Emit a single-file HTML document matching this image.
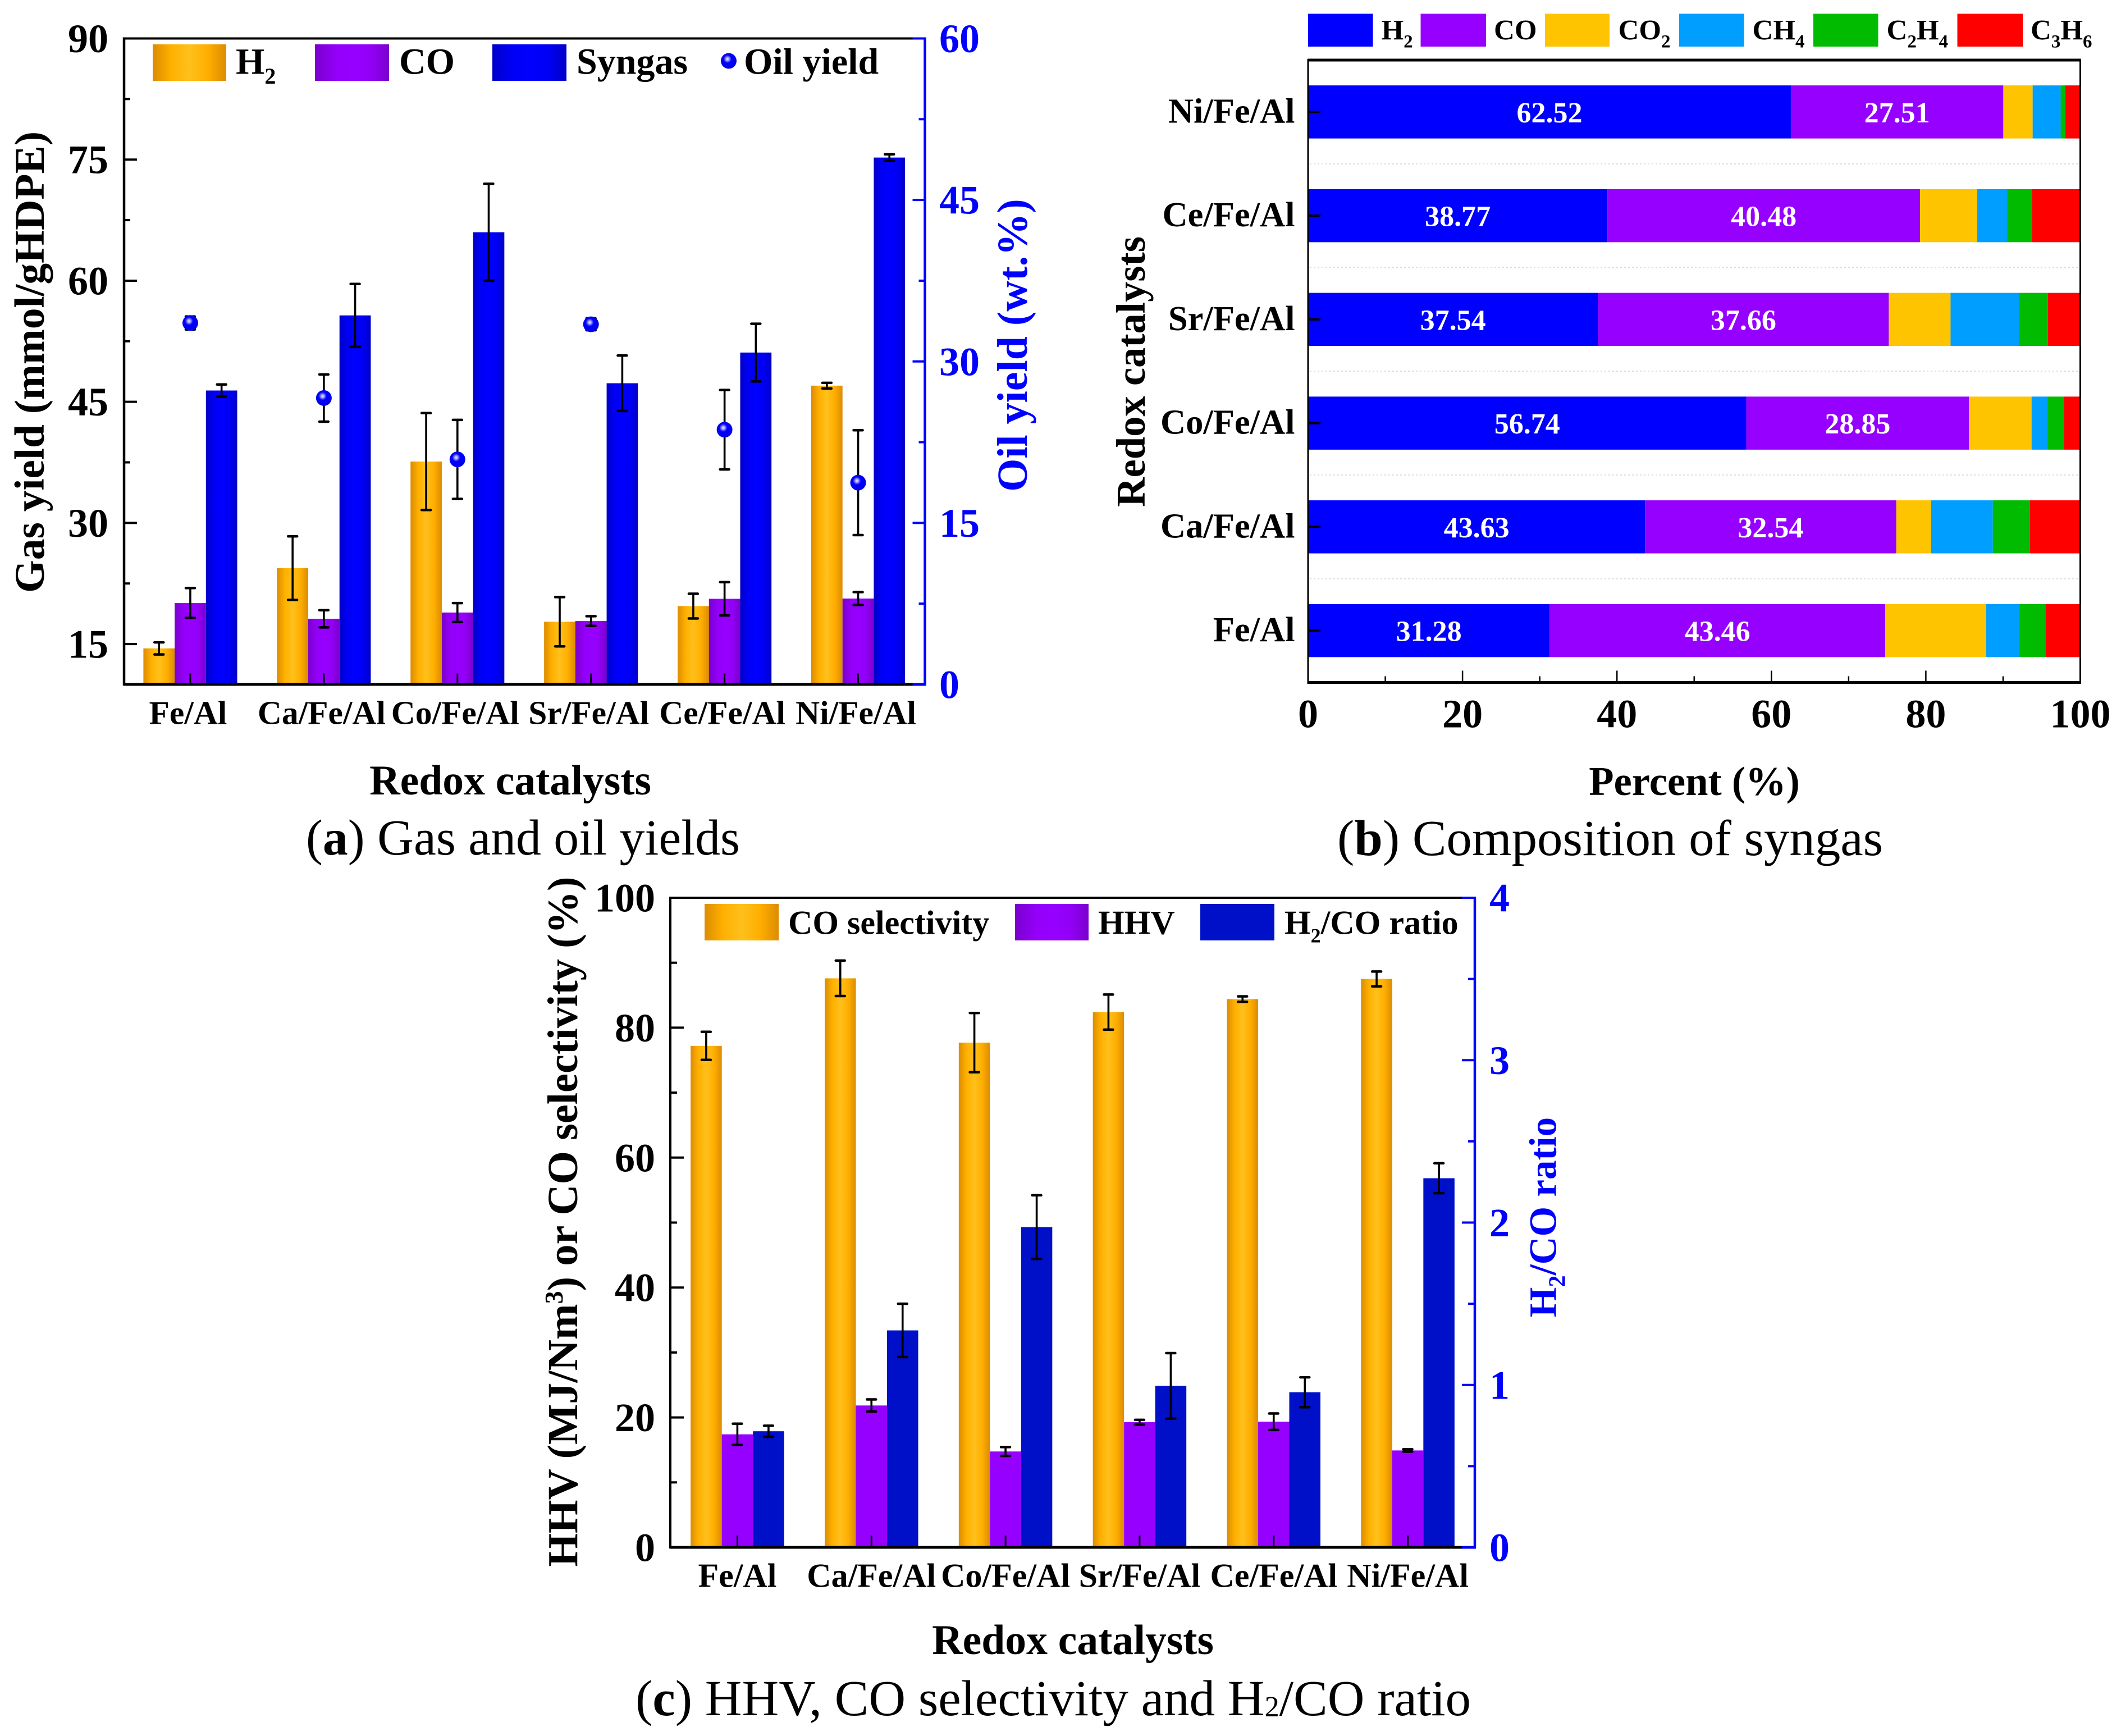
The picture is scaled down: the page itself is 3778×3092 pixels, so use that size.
<!DOCTYPE html>
<html lang="en">
<head>
<meta charset="utf-8">
<title>Gas and oil yields, syngas composition, HHV, CO selectivity and H2/CO ratio</title>
<style>
html,body{margin:0;padding:0;background:#fff;}
svg{display:block;font-family:"Liberation Serif",serif;}
.b{font-weight:bold;}
.blue{fill:#0000ff;}
</style>
</head>
<body>
<svg xmlns="http://www.w3.org/2000/svg" width="3778" height="3092" viewBox="0 0 3778 3092">
<defs>
<linearGradient id="gOrange" x1="0" x2="1" y1="0" y2="0">
<stop offset="0" stop-color="#dc8c00"/><stop offset=".25" stop-color="#ffb000"/><stop offset=".5" stop-color="#ffc01c"/><stop offset=".75" stop-color="#ffae00"/><stop offset="1" stop-color="#dc8c00"/>
</linearGradient>
<linearGradient id="gPurple" x1="0" x2="1" y1="0" y2="0">
<stop offset="0" stop-color="#7a00cc"/><stop offset=".3" stop-color="#9400fb"/><stop offset=".55" stop-color="#9600ff"/><stop offset=".75" stop-color="#9200f6"/><stop offset="1" stop-color="#7a00cc"/>
</linearGradient>
<linearGradient id="gBlue" x1="0" x2="1" y1="0" y2="0">
<stop offset="0" stop-color="#0000c8"/><stop offset=".25" stop-color="#0000f4"/><stop offset=".5" stop-color="#0000ff"/><stop offset=".75" stop-color="#0000f4"/><stop offset="1" stop-color="#0000c8"/>
</linearGradient>
<radialGradient id="gSphere" cx=".42" cy=".38" r=".6">
<stop offset="0" stop-color="#f0f0ff"/><stop offset=".18" stop-color="#9a9aff"/><stop offset=".42" stop-color="#0000ff"/><stop offset="1" stop-color="#0000e6"/>
</radialGradient>
</defs>

<!-- Panel A -->
<g>
  <g id="a-marks"></g>
  <g fill="none">
    <line x1="220" y1="68.5" x2="1627" y2="68.5" stroke="#000" stroke-width="4"/>
    <line x1="220" y1="1219" x2="1627" y2="1219" stroke="#000" stroke-width="5"/>
    <line x1="221" y1="66.5" x2="221" y2="1221" stroke="#000" stroke-width="4.5"/>
    <line x1="1627" y1="68.5" x2="1649" y2="68.5" stroke="#0000ff" stroke-width="4"/>
    <line x1="1627" y1="1219" x2="1649" y2="1219" stroke="#0000ff" stroke-width="5"/>
    <line x1="1647.5" y1="66.5" x2="1647.5" y2="1221" stroke="#0000ff" stroke-width="4.5"/>
  </g>
  <g id="a-ticks"></g>
  <g>
    <rect x="272" y="79" width="131" height="65" fill="url(#gOrange)"/>
    <text x="420" y="131.5" class="b" font-size="66">H<tspan font-size="40" dy="17.5">2</tspan></text>
    <rect x="561" y="79" width="132" height="65" fill="url(#gPurple)"/>
    <text x="711" y="131.5" class="b" font-size="66">CO</text>
    <rect x="877" y="79" width="132" height="65" fill="url(#gBlue)"/>
    <text x="1027" y="131.5" class="b" font-size="66">Syngas</text>
    <circle cx="1298" cy="108.5" r="14" fill="url(#gSphere)"/>
    <text x="1325" y="131.5" class="b" font-size="66">Oil yield</text>
  </g>
  <text transform="translate(78,645) rotate(-90)" text-anchor="middle" class="b" font-size="75.5">Gas yield (mmol/gHDPE)</text>
  <text transform="translate(1829,615) rotate(-90)" text-anchor="middle" class="b blue" font-size="76">Oil yield (wt.%)</text>
  <text x="909" y="1415" text-anchor="middle" class="b" font-size="75.6">Redox catalysts</text>
  <text x="545" y="1522" font-size="90" textLength="773" lengthAdjust="spacingAndGlyphs">(<tspan class="b">a</tspan>) Gas and oil yields</text>
</g>

<!-- Panel B -->
<g>
  <g id="b-marks"></g>
  <g fill="none" stroke="#000">
    <line x1="2330" y1="107" x2="3706" y2="107" stroke-width="5"/>
    <line x1="2330" y1="1215.5" x2="3706" y2="1215.5" stroke-width="5"/>
    <line x1="2330" y1="105" x2="2330" y2="1218" stroke-width="3"/>
    <line x1="3705.5" y1="105" x2="3705.5" y2="1218" stroke-width="3"/>
  </g>
  <g id="b-ticks"></g>
  <g class="b" font-size="51">
    <rect x="2330" y="24.5" width="115.5" height="58.5" fill="#0000ff"/>
    <text x="2460.5" y="70.5">H<tspan font-size="33" dy="14">2</tspan></text>
    <rect x="2530.5" y="24.5" width="116.5" height="58.5" fill="#9600ff"/>
    <text x="2661" y="70.5">CO</text>
    <rect x="2752" y="24.5" width="115" height="58.5" fill="#ffc400"/>
    <text x="2882.5" y="70.5">CO<tspan font-size="33" dy="14">2</tspan></text>
    <rect x="2991" y="24.5" width="115.5" height="58.5" fill="#009eff"/>
    <text x="3121.5" y="70.5">CH<tspan font-size="33" dy="14">4</tspan></text>
    <rect x="3230" y="24.5" width="115.5" height="58.5" fill="#00bb00"/>
    <text x="3360.5" y="70.5">C<tspan font-size="33" dy="14">2</tspan><tspan dy="-14">H</tspan><tspan font-size="33" dy="14">4</tspan></text>
    <rect x="3486.5" y="24.5" width="116.5" height="58.5" fill="#ff0000"/>
    <text x="3617" y="70.5">C<tspan font-size="33" dy="14">3</tspan><tspan dy="-14">H</tspan><tspan font-size="33" dy="14">6</tspan></text>
  </g>
  <text transform="translate(2039,662) rotate(-90)" text-anchor="middle" class="b" font-size="72.6">Redox catalysts</text>
  <text x="3018" y="1416" text-anchor="middle" class="b" font-size="72.6">Percent (%)</text>
  <text x="2382" y="1523" font-size="90" textLength="972" lengthAdjust="spacingAndGlyphs">(<tspan class="b">b</tspan>) Composition of syngas</text>
</g>

<!-- Panel C -->
<g>
  <g id="c-marks"></g>
  <g fill="none">
    <line x1="1194" y1="1599" x2="2604" y2="1599" stroke="#000" stroke-width="4"/>
    <line x1="1194" y1="2756" x2="2604" y2="2756" stroke="#000" stroke-width="5"/>
    <line x1="1194" y1="1597" x2="1194" y2="2758" stroke="#000" stroke-width="4"/>
    <line x1="2604" y1="1599" x2="2629" y2="1599" stroke="#0000ff" stroke-width="4"/>
    <line x1="2604" y1="2756" x2="2629" y2="2756" stroke="#0000ff" stroke-width="5"/>
    <line x1="2627" y1="1597" x2="2627" y2="2758" stroke="#0000ff" stroke-width="4.5"/>
  </g>
  <g id="c-ticks"></g>
  <g class="b" font-size="60">
    <rect x="1255" y="1610" width="132" height="65" fill="url(#gOrange)"/>
    <text x="1404" y="1663.5">CO selectivity</text>
    <rect x="1808" y="1610" width="131" height="65" fill="url(#gPurple)"/>
    <text x="1956" y="1663.5">HHV</text>
    <rect x="2138" y="1610" width="132" height="65" fill="#0010c8"/>
    <text x="2288" y="1663.5">H<tspan font-size="36" dy="15">2</tspan><tspan dy="-15">/CO ratio</tspan></text>
  </g>
  <text transform="translate(1028,2176) rotate(-90)" text-anchor="middle" class="b" font-size="76.5">HHV (MJ/Nm<tspan font-size="46" dy="-26">3</tspan><tspan dy="26">) or CO selectivity (%)</tspan></text>
  <text transform="translate(2771.5,2168) rotate(-90)" text-anchor="middle" class="b blue" font-size="69">H<tspan font-size="42" dy="16">2</tspan><tspan dy="-16">/CO ratio</tspan></text>
  <text x="1911" y="2946" text-anchor="middle" class="b" font-size="75.6">Redox catalysts</text>
  <text x="1132" y="3055" font-size="90" textLength="1488" lengthAdjust="spacingAndGlyphs">(<tspan class="b">c</tspan>) HHV, CO selectivity and H<tspan font-size="52" dy="2">2</tspan><tspan dy="-2">/CO ratio</tspan></text>
</g>
</svg>

<script>
// ---------- Panel A data ----------
const aCategories = ['Fe/Al', 'Ca/Fe/Al', 'Co/Fe/Al', 'Sr/Fe/Al', 'Ce/Fe/Al', 'Ni/Fe/Al'];
const aH2 = [14.46, 24.4, 37.6, 17.76, 19.7, 47.0];
const aH2Err = [0.75, 3.94, 6.0, 3.05, 1.53, 0.35];
const aCO = [20.08, 18.13, 18.9, 17.85, 20.6, 20.63];
const aCOErr = [1.85, 1.06, 1.17, 0.6, 2.06, 0.8];
const aSyngas = [46.4, 55.7, 66.0, 47.3, 51.1, 75.25];
const aSyngasErr = [0.75, 3.9, 6.0, 3.43, 3.57, 0.4];
const aOil = [33.57, 26.6, 20.9, 33.45, 23.66, 18.74];
const aOilErr = [0.6, 2.19, 3.67, 0.55, 3.69, 4.87];
const aLeftTicks = [15, 30, 45, 60, 75, 90];
const aLeftMinor = [22.5, 37.5, 52.5, 67.5, 82.5];
const aRightTicks = [0, 15, 30, 45, 60];
const aRightMinor = [7.5, 22.5, 37.5, 52.5];

// ---------- Panel B data ----------
const bCategories = ['Fe/Al', 'Ca/Fe/Al', 'Co/Fe/Al', 'Sr/Fe/Al', 'Ce/Fe/Al', 'Ni/Fe/Al'];
const bH2 = [31.28, 43.63, 56.74, 37.54, 38.77, 62.52];
const bCO = [43.46, 32.54, 28.85, 37.66, 40.48, 27.51];
const bCO2 = [13.06, 4.5, 8.1, 8.0, 7.4, 3.8];
const bCH4 = [4.3, 8.0, 2.0, 8.85, 3.9, 3.63];
const bC2H4 = [3.4, 4.8, 2.2, 3.75, 3.2, 0.6];
const bC3H6 = [4.5, 6.53, 2.11, 4.2, 6.25, 1.94];
const bXTicks = [0, 20, 40, 60, 80, 100];
const bXMinor = [10, 30, 50, 70, 90];

// ---------- Panel C data ----------
const cCategories = ['Fe/Al', 'Ca/Fe/Al', 'Co/Fe/Al', 'Sr/Fe/Al', 'Ce/Fe/Al', 'Ni/Fe/Al'];
const cSelectivity = [77.2, 87.6, 77.7, 82.4, 84.4, 87.5];
const cSelectivityErr = [2.16, 2.73, 4.56, 2.7, 0.42, 1.14];
const cHHV = [17.4, 21.84, 14.76, 19.27, 19.34, 14.92];
const cHHVErr = [1.64, 0.93, 0.68, 0.36, 1.27, 0.18];
const cRatio = [0.715, 1.336, 1.972, 0.994, 0.955, 2.273];
const cRatioErr = [0.034, 0.164, 0.196, 0.202, 0.092, 0.092];
const cLeftTicks = [0, 20, 40, 60, 80, 100];
const cLeftMinor = [10, 30, 50, 70, 90];
const cRightTicks = [0, 1, 2, 3, 4];
const cRightMinor = [0.5, 1.5, 2.5, 3.5];

const NS = 'http://www.w3.org/2000/svg';
function mk(tag, attrs, parent) {
  const el = document.createElementNS(NS, tag);
  for (const k in attrs) el.setAttribute(k, attrs[k]);
  parent.appendChild(el);
  return el;
}
function slug(s) { return String(s).toLowerCase().replace(/[^a-z0-9]+/g, '-'); }

function drawBar(parent, cx, w, yTop, yBase, fill, name) {
  const r = mk('rect', { x: cx - w / 2, y: yTop, width: w, height: Math.max(0, yBase - yTop), fill: fill }, parent);
  
  
}
function drawError(parent, cx, yHi, yLo, name) {
  const g = mk('g', { stroke: '#000', 'stroke-linecap': 'round' }, parent);
  
  
  mk('line', { x1: cx, x2: cx, y1: yHi, y2: yLo, 'stroke-width': 3.6 }, g);
  mk('line', { x1: cx - 8, x2: cx + 8, y1: yHi, y2: yHi, 'stroke-width': 4.5 }, g);
  mk('line', { x1: cx - 8, x2: cx + 8, y1: yLo, y2: yLo, 'stroke-width': 4.5 }, g);
}
function drawTick(parent, x1, y1, x2, y2, color, width, name) {
  const t = mk('line', { x1: x1, y1: y1, x2: x2, y2: y2, stroke: color, 'stroke-width': width }, parent);
  
  
}
function drawLabel(parent, x, y, text, size, anchor, fill, name) {
  const t = mk('text', { x: x, y: y, 'font-size': size, 'text-anchor': anchor, fill: fill, 'font-weight': 'bold' }, parent);
  t.textContent = text;
  
  
}

// ---------- Panel A ----------
(function () {
  const L = 220, R = 1647.5, T = 68.5, B = 1219, BW = 55.7;
  const x = i => L + (R - L) * (i + 0.5) / aCategories.length;
  const yL = v => B - (v - 10) / 80 * (B - T);
  const yR = v => B - v / 60 * (B - T);
  const marks = document.getElementById('a-marks');
  const ticks = document.getElementById('a-ticks');
  aCategories.forEach((cat, i) => {
    const c = x(i), s = slug(cat);
    drawBar(marks, c - BW, BW, yL(aH2[i]), B, 'url(#gOrange)', 'bar-h2-' + s);
    drawBar(marks, c, BW, yL(aCO[i]), B, 'url(#gPurple)', 'bar-co-' + s);
    drawBar(marks, c + BW, BW, yL(aSyngas[i]), B, 'url(#gBlue)', 'bar-syngas-' + s);
    drawError(marks, c - BW, yL(aH2[i] + aH2Err[i]), yL(aH2[i] - aH2Err[i]), 'error-h2-' + s);
    drawError(marks, c, yL(aCO[i] + aCOErr[i]), yL(aCO[i] - aCOErr[i]), 'error-co-' + s);
    drawError(marks, c + BW, yL(aSyngas[i] + aSyngasErr[i]), yL(aSyngas[i] - aSyngasErr[i]), 'error-syngas-' + s);
    drawError(marks, c, yR(aOil[i] + aOilErr[i]), yR(aOil[i] - aOilErr[i]), 'error-oil-' + s);
    const m = mk('circle', { cx: c, cy: yR(aOil[i]), r: 14, fill: 'url(#gSphere)' }, marks);
    
    
    drawTick(ticks, c, B - 19.5, c, B, '#000', 3, 'x-tick-' + s);
    drawLabel(ticks, c - 4, 1289.5, cat, 59.5, 'middle', '#000', 'x-tick-label-' + s);
  });
  aLeftTicks.forEach(v => {
    drawTick(ticks, L, yL(v), L + 24, yL(v), '#000', 4, 'left-tick-' + v);
    drawLabel(ticks, 193, yL(v) + 24.5, v, 72, 'end', '#000', 'left-tick-label-' + v);
  });
  aLeftMinor.forEach(v => {
    drawTick(ticks, L, yL(v), L + 12, yL(v), '#000', 4, 'left-minor-tick');
  });
  aRightTicks.forEach(v => {
    drawTick(ticks, R - 22, yR(v), R, yR(v), '#0000ff', 4, 'right-tick-' + v);
    drawLabel(ticks, 1673, yR(v) + 24.5, v, 72, 'start', '#0000ff', 'right-tick-label-' + v);
  });
  aRightMinor.forEach(v => {
    drawTick(ticks, R - 11, yR(v), R, yR(v), '#0000ff', 4, 'right-minor-tick');
  });
})();

// ---------- Panel B ----------
(function () {
  const L = 2330, R = 3705.5, T = 107, B = 1215.5, BH = 94.5;
  const n = bCategories.length;
  const x = v => L + v / 100 * (R - L);
  const y = i => T + (B - T) * (n - i - 0.5) / n;
  const seriesNames = ['h2', 'co', 'co2', 'ch4', 'c2h4', 'c3h6'];
  const seriesValues = [bH2, bCO, bCO2, bCH4, bC2H4, bC3H6];
  const seriesColors = ['#0000ff', '#9600ff', '#ffc400', '#009eff', '#00bb00', '#ff0000'];
  const marks = document.getElementById('b-marks');
  const ticks = document.getElementById('b-ticks');
  for (let k = 1; k < n; k++) {
    const gy = T + (B - T) * k / n;
    const g = mk('line', { x1: L + 3, x2: R - 3, y1: gy, y2: gy, stroke: '#dcdcdc', 'stroke-width': 2, 'stroke-dasharray': '3 4' }, marks);
    
    
  }
  bCategories.forEach((cat, i) => {
    const s = slug(cat), cy = y(i);
    let acc = 0;
    seriesValues.forEach((vals, k) => {
      const v = vals[i];
      const r = mk('rect', { x: x(acc), y: cy - BH / 2, width: x(acc + v) - x(acc), height: BH, fill: seriesColors[k] }, marks);
      
      
      if (k < 2) {
        drawLabel(marks, x(acc + v / 2), cy + 18.5, v.toFixed(2), 52, 'middle', '#fff', 'value-label-' + seriesNames[k] + '-' + s);
      }
      acc += v;
    });
    drawTick(ticks, L, cy, L + 22, cy, '#000', 4, 'y-tick-' + s);
    drawLabel(ticks, 2306.5, cy + 19, cat, 62.5, 'end', '#000', 'y-tick-label-' + s);
  });
  bXTicks.forEach(v => {
    drawTick(ticks, x(v), B - 21, x(v), B, '#000', 2.5, 'x-tick-' + v);
    drawLabel(ticks, x(v), 1295.5, v, 72, 'middle', '#000', 'x-tick-label-' + v);
  });
  bXMinor.forEach(v => {
    drawTick(ticks, x(v), B - 11, x(v), B, '#000', 2.5, 'x-minor-tick');
  });
})();

// ---------- Panel C ----------
(function () {
  const L = 1194, R = 2627, T = 1599, B = 2756, BW = 55.5;
  const x = i => L + (R - L) * (i + 0.5) / cCategories.length;
  const yL = v => B - v / 100 * (B - T);
  const yR = v => B - v / 4 * (B - T);
  const marks = document.getElementById('c-marks');
  const ticks = document.getElementById('c-ticks');
  cCategories.forEach((cat, i) => {
    const c = x(i), s = slug(cat);
    drawBar(marks, c - BW, BW, yL(cSelectivity[i]), B, 'url(#gOrange)', 'bar-selectivity-' + s);
    drawBar(marks, c, BW, yL(cHHV[i]), B, '#9600ff', 'bar-hhv-' + s);
    drawBar(marks, c + BW, BW, yR(cRatio[i]), B, '#0010c8', 'bar-ratio-' + s);
    drawError(marks, c - BW, yL(cSelectivity[i] + cSelectivityErr[i]), yL(cSelectivity[i] - cSelectivityErr[i]), 'error-selectivity-' + s);
    drawError(marks, c, yL(cHHV[i] + cHHVErr[i]), yL(cHHV[i] - cHHVErr[i]), 'error-hhv-' + s);
    drawError(marks, c + BW, yR(cRatio[i] + cRatioErr[i]), yR(cRatio[i] - cRatioErr[i]), 'error-ratio-' + s);
    drawTick(ticks, c, B - 21, c, B, '#000', 3, 'x-tick-' + s);
    drawLabel(ticks, c, 2826.5, cat, 60, 'middle', '#000', 'x-tick-label-' + s);
  });
  cLeftTicks.forEach(v => {
    drawTick(ticks, L, yL(v), L + 24, yL(v), '#000', 4, 'left-tick-' + v);
    drawLabel(ticks, 1167, yL(v) + 24.5, v, 72, 'end', '#000', 'left-tick-label-' + v);
  });
  cLeftMinor.forEach(v => {
    drawTick(ticks, L, yL(v), L + 12, yL(v), '#000', 4, 'left-minor-tick');
  });
  cRightTicks.forEach(v => {
    drawTick(ticks, R - 23, yR(v), R, yR(v), '#0000ff', 4, 'right-tick-' + v);
    drawLabel(ticks, 2653, yR(v) + 24.5, v, 72, 'start', '#0000ff', 'right-tick-label-' + v);
  });
  cRightMinor.forEach(v => {
    drawTick(ticks, R - 12, yR(v), R, yR(v), '#0000ff', 4, 'right-minor-tick');
  });
})();
</script>
</body>
</html>
